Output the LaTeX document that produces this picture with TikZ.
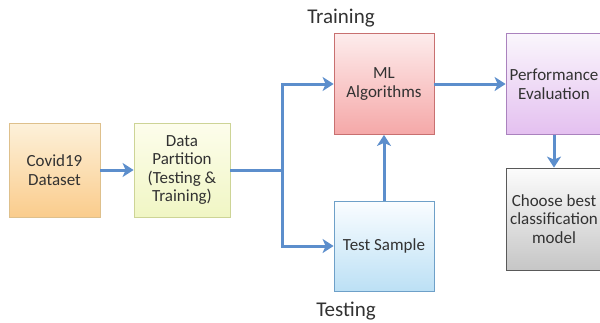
\documentclass[tikz,border=0pt]{standalone}
\usepackage{fontspec}
\setmainfont{Carlito}
\usepackage{tikz}
\usetikzlibrary{arrows.meta,positioning,calc}

\definecolor{flowblue}{RGB}{92,142,204}
\definecolor{txtgray}{RGB}{50,50,50}
% box fills
\definecolor{covidtop}{RGB}{253,241,218}
\definecolor{covidbot}{RGB}{250,204,140}
\definecolor{covidline}{RGB}{222,192,140}
\definecolor{parttop}{RGB}{253,253,236}
\definecolor{partbot}{RGB}{240,246,196}
\definecolor{partline}{RGB}{205,212,150}
\definecolor{mltop}{RGB}{253,236,236}
\definecolor{mlbot}{RGB}{245,168,168}
\definecolor{mlline}{RGB}{200,112,112}
\definecolor{testtop}{RGB}{250,253,255}
\definecolor{testbot}{RGB}{188,224,245}
\definecolor{testline}{RGB}{110,160,200}
\definecolor{perftop}{RGB}{250,246,252}
\definecolor{perfbot}{RGB}{228,192,240}
\definecolor{perfline}{RGB}{170,130,190}
\definecolor{choosetop}{RGB}{252,252,252}
\definecolor{choosebot}{RGB}{198,198,198}

\begin{document}
\begin{tikzpicture}[x=1pt, y=-1pt,
    block/.style = {draw, align=center, inner sep=1pt, text=txtgray, line width=0.8pt,
                    font=\fontsize{17}{18.5}\selectfont},
    dataset/.style = {block, draw=covidline, top color=covidtop, bottom color=covidbot,
                    minimum width=91pt, minimum height=94pt},
    partition/.style = {block, draw=partline, top color=parttop, bottom color=partbot,
                    minimum width=96pt, minimum height=94pt},
    mlbox/.style = {block, draw=mlline, top color=mltop, bottom color=mlbot,
                    minimum width=100pt, minimum height=101pt},
    testbox/.style = {block, draw=testline, top color=testtop, bottom color=testbot,
                    minimum width=100pt, minimum height=90pt},
    perfbox/.style = {block, draw=perfline, top color=perftop, bottom color=perfbot,
                    minimum width=96pt, minimum height=101pt},
    choosebox/.style = {block, draw=black!65, top color=choosetop, bottom color=choosebot,
                    minimum width=96pt, minimum height=102pt},
    phase/.style = {text=txtgray, font=\fontsize{21}{24}\selectfont},
    flow/.style = {draw=flowblue, line width=3pt, -{Stealth[length=11pt,width=14pt,inset=3pt]}},
    flowline/.style = {draw=flowblue, line width=3pt}]

    \useasboundingbox (0,0) rectangle (600,322);

    \node [dataset]   (covid)  at (54.5,170) {Covid19\\Dataset};
    \node [partition] (part)   at (182,170)  {Data\\Partition\\(Testing \&\\Training)};
    \node [mlbox]     (ml)     at (384,84)   {ML\\Algorithms};
    \node [testbox]   (test)   at (384,246)  {Test Sample};
    \node [perfbox]   (perf)   at (554,84)   {Performance\\Evaluation};
    \node [choosebox] (choose) at (554,219)  {Choose best\\classification\\model};

    \node [phase] (train) at (341,18)  {Training};
    \node [phase] (tst)   at (346,311) {Testing};

    \coordinate (split) at (282,170);

    \draw [flow] (covid) -- (part);
    \draw [flowline] (part.east) -- (split);
    \draw [flow] (split) |- (ml.west);
    \draw [flow] (split) |- (test.west);
    \draw [flow] (test) -- (ml);
    \draw [flow] (ml) -- (perf);
    \draw [flow] (perf) -- (choose);
\end{tikzpicture}
\end{document}
